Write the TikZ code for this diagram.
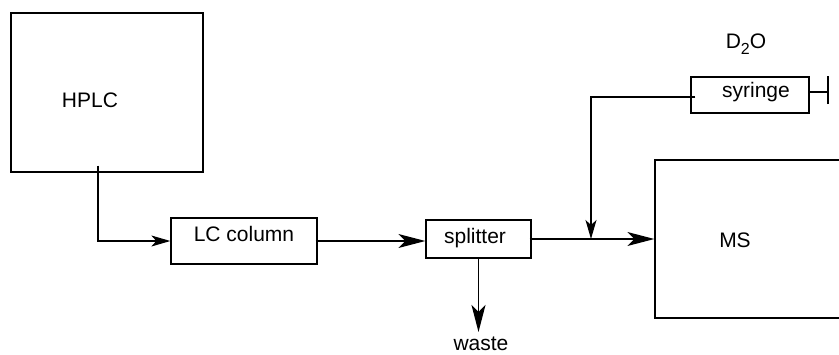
\documentclass[tikz,border=0pt]{standalone}
\usepackage{fontspec}
\setmainfont{Liberation Sans}
\usepackage{tikz}
\usetikzlibrary{arrows.meta,positioning}
\tikzset{
  unitbox/.style={rectangle,draw=black,line width=1.3pt,inner sep=0pt},
  tag/.style={font=\fontsize{21}{25}\selectfont,inner sep=0pt},
  flow/.style={-{Stealth[length=27pt,width=14pt,inset=7pt]},line width=1.3pt},
  smallflow/.style={-{Stealth[length=19pt,width=11pt,inset=5pt]},line width=1.3pt}
}

\begin{document}
\begin{tikzpicture}[x=1pt,y=-1pt]
  \useasboundingbox (0,0) rectangle (839,354);
  \clip (0,0) rectangle (839,354);
  \node[unitbox,minimum width=192pt,minimum height=159pt] (hplc) at (107,92.5) {};
  \node[tag] at (90,100) {HPLC};
  \node[unitbox,minimum width=146pt,minimum height=46pt] (lccol) at (244,241) {};
  \node[tag] at (244,234) {LC column};
  \node[unitbox,minimum width=105pt,minimum height=38pt] (spl) at (478.5,239) {};
  \node[tag] at (475,238) {splitter};
  \node[unitbox,minimum width=118pt,minimum height=36pt] (syr) at (750,95) {};
  \node[tag] at (756,92) {syringe};
  \node[unitbox,minimum width=230pt,minimum height=158pt] (ms) at (770,239) {};
  \node[tag] at (735,240) {MS};
  \node[tag] (d2o) at (746,44) {D\raisebox{-6pt}{\fontsize{16}{18}\selectfont 2}O};
  \node[tag,anchor=north] (waste) at (481,337) {waste};
  \coordinate (jn) at (591,239);
  \coordinate (plunger) at (828,92);

  \draw[smallflow] ([xshift=-9pt,yshift=7pt]hplc.south) |- (lccol.west);
  \draw[flow] ([xshift=-2pt]lccol.east) -- (lccol.east -| spl.west);
  \draw[flow] ([xshift=-2pt]spl.east) -- (ms.west);
  \draw[smallflow] ([xshift=5pt,yshift=-2pt]syr.west) -| (jn);
  \draw[flow] (spl.south) -- ([yshift=5pt]spl.south |- waste.north);
  \draw[line width=1.3pt] ([yshift=3pt]syr.east) -- (plunger);
  \draw[line width=1.3pt] ([yshift=-12pt]plunger) -- ([yshift=16pt]plunger);
\end{tikzpicture}
\end{document}
